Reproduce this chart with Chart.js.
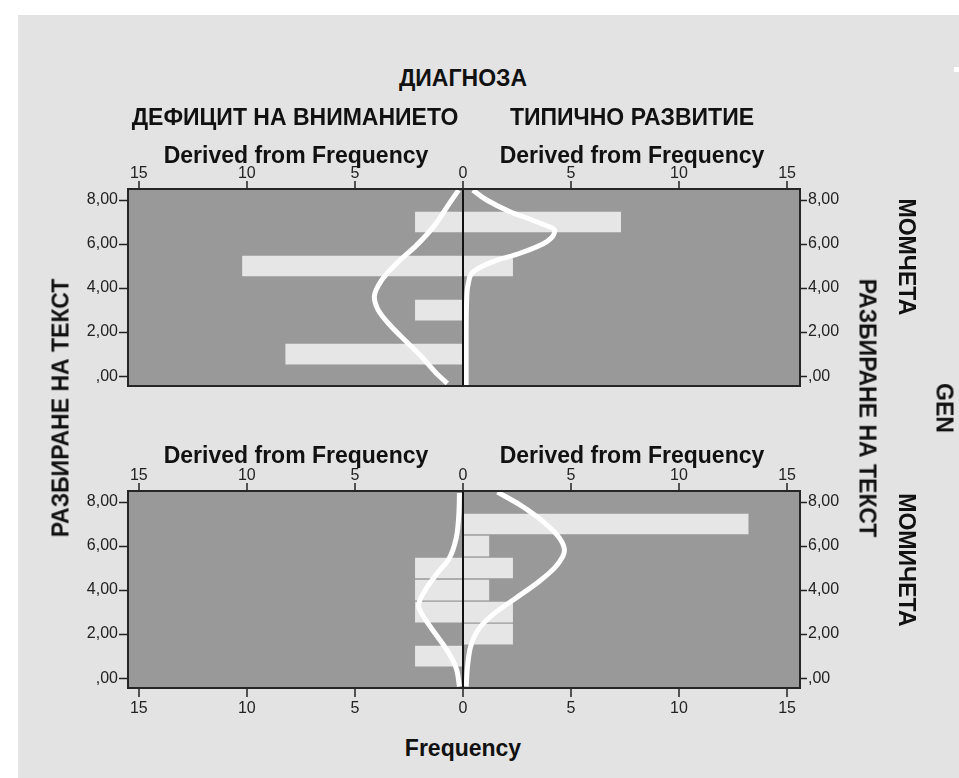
<!DOCTYPE html>
<html>
<head>
<meta charset="utf-8">
<script src="https://cdn.jsdelivr.net/npm/chart.js@4.4.1/dist/chart.umd.min.js"></script>
<style>
  body { margin: 0; background: #fff; width: 959px; height: 778px; position: relative; overflow: hidden;
         font-family: "Liberation Sans", Arial, sans-serif; }
  #bg { position: absolute; left: 18px; top: 15px; width: 941px; height: 763px; background: #e3e3e3; }
  #mark { position: absolute; left: 954px; top: 67px; width: 5px; height: 5px; background: #fff; }
  .wrap { position: absolute; left: 0; }
  .t { position: absolute; font-weight: bold; font-size: 23px; line-height: 23px; color: #111;
       white-space: nowrap; transform: translate(-50%, -50%); }
  .up { transform: translate(-50%, -50%) rotate(-90deg); }
  .down { transform: translate(-50%, -50%) rotate(90deg); }
</style>
</head>
<body>
<div id="bg"></div>
<div id="mark"></div>
<div class="wrap" style="top:125px"><canvas id="boys" width="959" height="275"></canvas></div>
<div class="wrap" style="top:425px"><canvas id="girls" width="959" height="300"></canvas></div>

<div class="t" style="left:463px;top:78px">ДИАГНОЗА</div>
<div class="t" style="left:295px;top:117px">ДЕФИЦИТ НА ВНИМАНИЕТО</div>
<div class="t" style="left:632px;top:117px">ТИПИЧНО РАЗВИТИЕ</div>
<div class="t" style="left:296px;top:155px">Derived from Frequency</div>
<div class="t" style="left:632px;top:155px">Derived from Frequency</div>
<div class="t" style="left:296px;top:455px">Derived from Frequency</div>
<div class="t" style="left:632px;top:455px">Derived from Frequency</div>
<div class="t" style="left:463px;top:748px">Frequency</div>
<div class="t up" style="left:61px;top:408px">РАЗБИРАНЕ НА ТЕКСТ</div>
<div class="t down" style="left:867px;top:408px">РАЗБИРАНЕ НА ТЕКСТ</div>
<div class="t down" style="left:906px;top:257px">МОМЧЕТА</div>
<div class="t down" style="left:944px;top:408px">GEN</div>
<div class="t down" style="left:906px;top:560px">МОМИЧЕТА</div>

<script>
// bins of the score (РАЗБИРАНЕ НА ТЕКСТ)
const bins = [1, 2, 3, 4, 5, 6, 7]

// frequencies per bin
const boysAttention = [8.2, 0, 2.2, 0, 10.2, 0, 2.2]
const boysTypical = [0, 0, 0, 0, 2.3, 0, 7.3]
const girlsAttention = [2.2, 0, 2.2, 2.2, 2.2, 0, 0]
const girlsTypical = [0, 2.3, 2.3, 1.2, 2.3, 1.2, 13.2]

// normal curves
const boysAttentionCurveX = [0.2, 0.68, 1.30, 2.14, 3.07, 3.76, 4.10, 3.92, 3.38, 2.61, 1.84, 1.22, 0.72]
const boysAttentionCurveY = [8.45, 7.77, 6.86, 5.95, 5.12, 4.36, 3.6, 3.00, 2.32, 1.56, 0.80, 0.12, -0.33]
const boysTypicalCurveX = [0.46, 1.10, 2.18, 3.41, 4.25, 3.87, 2.64, 1.40, 0.48, 0.25, 0.17, 0.15, 0.15]
const boysTypicalCurveY = [8.45, 8.0, 7.47, 7.01, 6.6, 6.1, 5.58, 5.2, 4.74, 4.21, 3.38, 1.86, -0.4]
const girlsAttentionCurveX = [0.16, 0.19, 0.31, 0.63, 1.24, 1.78, 2.05, 1.78, 1.24, 0.70, 0.31, 0.16]
const girlsAttentionCurveY = [8.41, 7.42, 6.36, 5.45, 4.70, 3.94, 3.3, 2.73, 1.97, 1.21, 0.45, -0.38]
const girlsTypicalCurveX = [1.6, 2.62, 3.70, 4.47, 4.7, 4.31, 3.54, 2.46, 1.38, 0.76, 0.38, 0.22, 0.15]
const girlsTypicalCurveY = [8.45, 7.88, 7.12, 6.36, 5.8, 5.08, 4.40, 3.64, 2.88, 2.27, 1.51, 0.60, -0.38]

// tick labels
const freqTicks = [-15, -10, -5, 0, 5, 10, 15]
const freqTickLabels = ['15', '10', '5', '0', '5', '10', '15']
const scoreTicks = [0, 2, 4, 6, 8]
const scoreTickLabels = [',00', '2,00', '4,00', '6,00', '8,00']

const tickFont = { family: 'Liberation Sans', size: 16 }
const tickColor = '#222'

const frame = {
    id: 'frame',
    beforeDraw(chart) {
        const a = chart.chartArea, c = chart.ctx
        c.save()
        c.fillStyle = '#999999'
        c.fillRect(a.left, a.top, a.right - a.left, a.bottom - a.top)
        c.restore()
    },
    afterDraw(chart) {
        const a = chart.chartArea, c = chart.ctx
        c.save()
        c.strokeStyle = '#262626'
        c.lineWidth = 2
        c.strokeRect(a.left, a.top, a.right - a.left, a.bottom - a.top)
        c.restore()
    }
}

function xAxis(position, height, tickLength, padding, zeroLine) {
    return {
        type: 'linear',
        position: position,
        min: -15.5,
        max: 15.6,
        afterBuildTicks: s => { s.ticks = freqTicks.map(v => ({ value: v })) },
        afterFit: s => { s.height = height },
        ticks: { callback: (v, i) => freqTickLabels[i], font: tickFont, color: tickColor, padding: padding, maxRotation: 0, autoSkip: false },
        grid: {
            drawOnChartArea: zeroLine,
            color: ctx => (ctx.tick && ctx.tick.value === 0) ? '#111' : 'rgba(0,0,0,0)',
            lineWidth: 2,
            tickColor: tickColor,
            tickWidth: 1.5,
            tickLength: tickLength,
            z: 1
        },
        border: { display: false }
    }
}

function yAxis(position, width, tickLength) {
    return {
        type: 'linear',
        position: position,
        min: -0.45,
        max: 8.5,
        offset: false,
        afterBuildTicks: s => { s.ticks = scoreTicks.map(v => ({ value: v })) },
        afterFit: s => { s.width = width },
        ticks: { callback: (v, i) => scoreTickLabels[i], font: tickFont, color: tickColor, padding: 1, autoSkip: false },
        grid: { offset: false, drawOnChartArea: false, tickColor: tickColor, tickWidth: 1.5, tickLength: tickLength },
        border: { display: false }
    }
}

function curve(xs, ys, side) {
    return xs.map((x, i) => ({ x: side * x, y: ys[i] }))
}

function bars(values, side) {
    return bins.map((b, i) => ({ x: side * values[i], y: b }))
}

function drawPanel(canvasId, attention, typical, attX, attY, typX, typY, topHeight, bottomHeight, withBottom) {
    ctx = document.getElementById(canvasId)

    scales = {
        x: xAxis('top', topHeight, 8, -2, true),
        y: yAxis('left', 128, 9),
        y2: yAxis('right', 159, 7)
    }
    if (withBottom) {
        scales.x2 = xAxis('bottom', bottomHeight, 9, 2, false)
    }

    lineStyle = { type: 'line', borderColor: '#fff', borderWidth: 5, pointRadius: 0, cubicInterpolationMode: 'monotone', fill: false, order: 1 }
    barStyle = { type: 'bar', backgroundColor: '#e6e6e6', borderWidth: 0, barThickness: 20, grouped: false, order: 2 }

    data = {
        datasets: [
            Object.assign({ data: curve(attX, attY, -1) }, lineStyle),
            Object.assign({ data: curve(typX, typY, 1) }, lineStyle),
            Object.assign({ data: bars(attention, -1) }, barStyle),
            Object.assign({ data: bars(typical, 1) }, barStyle)
        ]
    }

    config = {
        type: 'bar',
        data: data,
        options: {
            indexAxis: 'y',
            responsive: false,
            animation: false,
            layout: { padding: { top: 0, left: 0, right: 0, bottom: withBottom ? 0 : bottomHeight } },
            plugins: { legend: { display: false }, tooltip: { enabled: false } },
            scales: scales
        },
        plugins: [frame]
    }

    return new Chart(ctx, config)
}

drawPanel('boys', boysAttention, boysTypical, boysAttentionCurveX, boysAttentionCurveY,
    boysTypicalCurveX, boysTypicalCurveY, 64, 14, false)
drawPanel('girls', girlsAttention, girlsTypical, girlsAttentionCurveX, girlsAttentionCurveY,
    girlsTypicalCurveX, girlsTypicalCurveY, 66, 37, true)
</script>
</body>
</html>
